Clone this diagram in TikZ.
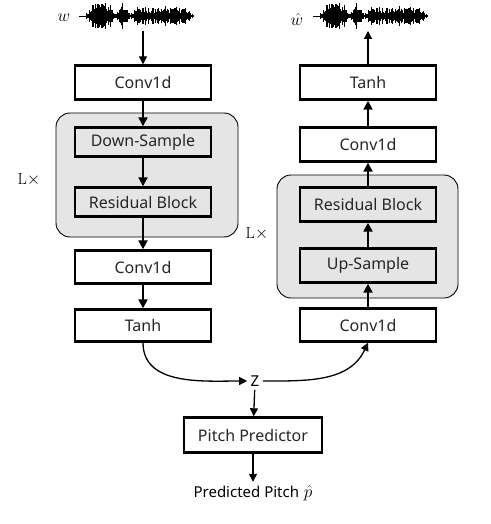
\documentclass[tikz,border=0pt]{standalone}
\usepackage{fontspec}
\usepackage{amsmath}
\usetikzlibrary{arrows.meta}
\newfontfamily\blkfont{Noto Sans}

% speech waveform, left end at (#1,#2)
\newcommand{\wavefm}[2]{%
  \pgfmathsetseed{11}
  \draw[line width=0.6pt] (#1-7,#2) -- (#1+105,#2);
  \foreach \a [count=\k from 0] in {3,8,14,15,13,15,14,12,13,4,5,13,14,8,3,4,9,10,8,10,9,7,9,10,9,11,10,8,10,9,10,8,7,8,5,2}{
    \foreach \j in {0,0.75,1.5,2.25}{
      \pgfmathsetmacro{\h}{\a*(0.35+0.65*rnd)}
      \draw[line width=0.9pt] (#1+3*\k+\j,#2-\h) -- (#1+3*\k+\j,#2+\h);
    }
  }
}

\begin{document}
\begin{tikzpicture}[x=1pt,y=-1pt,
  blk/.style={draw, line width=2.4pt, minimum width=136pt, minimum height=33pt,
              fill=white, text=black!85, inner sep=2pt,
              font=\blkfont\fontsize{16}{19}\selectfont},
  gblk/.style={blk, fill=gray!20, minimum height=29pt},
  grp/.style={draw, line width=0.9pt, rounded corners=14pt, fill=gray!20},
  nn/.style={-{Triangle[length=9pt,width=9pt]}, line width=2.2pt},
  lnk/.style={-{Triangle[length=8pt,width=8pt]}, line width=1.3pt},
  lbl/.style={font=\fontsize{16}{19}\selectfont}
]
\useasboundingbox (0,0) rectangle (490,524);

% ---------------- encoder ----------------
\node[lbl] (w) at (64,18) {$w$};
\wavefm{86}{16}
\coordinate (w-out) at (143,31);
\node[blk, minimum height=34pt] (conv-in) at (143,82.5) {Conv1d};
\draw[grp] (56,113) rectangle (238,237);
\node[gblk] (down) at (143,142) {Down-Sample};
\node[gblk] (res-l) at (143,202) {Residual Block};
\node[lbl] (lx-l) at (29,180) {L$\times$};
\node[blk] (conv-l) at (143,267) {Conv1d};
\node[blk, minimum height=32pt] (tanh-l) at (143,325.5) {Tanh};

\draw[lnk] (w-out) -- (conv-in);
\draw[nn] (conv-in) -- (down);
\draw[nn] (down) -- (res-l);
\draw[nn] (res-l) -- (conv-l);
\draw[nn] (conv-l) -- (tanh-l);

% ---------------- decoder ----------------
\node[lbl] (w-hat) at (297,20) {$\hat{w}$};
\wavefm{320}{16}
\coordinate (w-in) at (368,31);
\node[blk, minimum height=34pt] (tanh-r) at (368,82.5) {Tanh};
\node[blk, minimum height=34pt] (conv-r) at (368,144.5) {Conv1d};
\draw[grp] (277,175) rectangle (458,298);
\node[gblk, minimum height=34pt] (res-r) at (368,204.5) {Residual Block};
\node[gblk, minimum height=34pt] (up) at (368,265.5) {Up-Sample};
\node[lbl] (lx-r) at (257,234) {L$\times$};
\node[blk] (conv-out) at (368,325) {Conv1d};

\draw[nn] (conv-out) -- (up);
\draw[nn] (up) -- (res-r);
\draw[nn] (res-r) -- (conv-r);
\draw[nn] (conv-r) -- (tanh-r);
\draw[lnk] (tanh-r) -- (w-in);

% ---------------- latent and pitch ----------------
\node[lbl, font=\blkfont\fontsize{15}{18}\selectfont] (z) at (255,381) {Z};
\node[blk, minimum width=138pt, minimum height=35pt] (pp) at (253,435) {Pitch Predictor};
\node[lbl] (pred) at (253,493) {{\blkfont\fontsize{15}{18}\selectfont Predicted Pitch} $\hat{p}$};

\draw[lnk] (tanh-l.south) to[out=-90,in=180] (z.west);
\draw[lnk] (z.east) to[out=0,in=-115] (conv-out.south);
\draw[lnk] (z) -- (pp);
\draw[lnk] (pp) -- (pred);
\end{tikzpicture}
\end{document}
